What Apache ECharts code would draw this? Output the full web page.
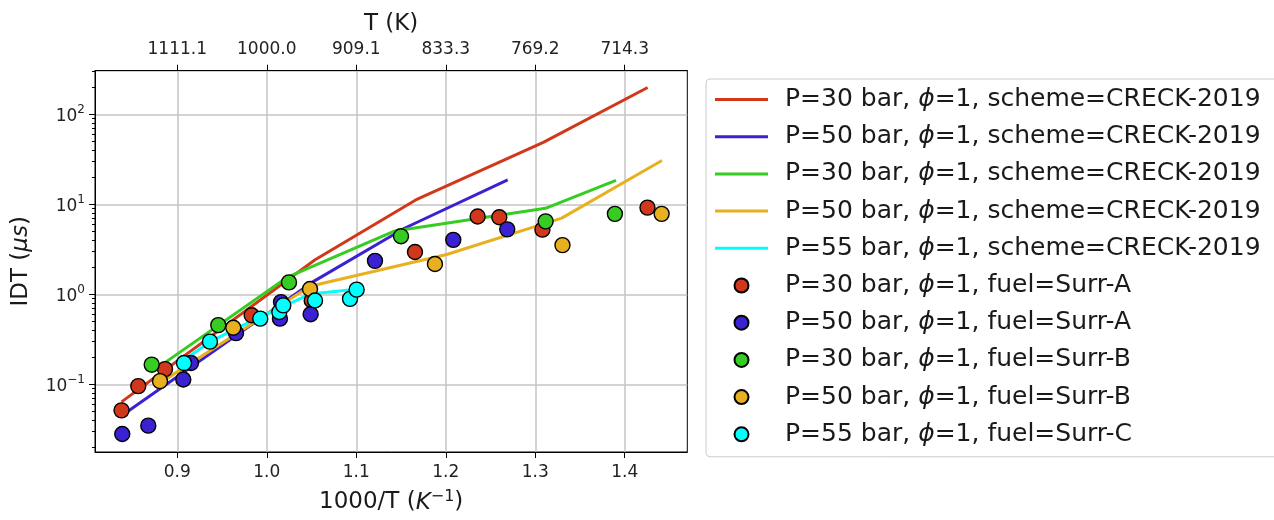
<!DOCTYPE html>
<html>
<head>
<meta charset="utf-8">
<script src="https://cdn.jsdelivr.net/npm/echarts@6/dist/echarts.min.js"></script>
<style>
  html, body { margin: 0; padding: 0; background: #ffffff; }
  #chart { width: 1274px; height: 520px; }
</style>
</head>
<body>
<div id="chart"></div>
<script>
// Axis ticks (1000/T in 1/K, IDT in microseconds)
const xTicks = [0.9, 1.0, 1.1, 1.2, 1.3, 1.4];
const yDecades = [0.1, 1, 10, 100];

// CRECK-2019 simulations: [1000/T, IDT]
const sim30a = [[0.8377, 0.064], [1.054, 2.43], [1.1664, 11.2], [1.309, 48.9], [1.4256, 199]];
const sim50a = [[0.8385, 0.0455], [1.0505, 1.36], [1.1544, 5.47], [1.2692, 18.7]];
const sim30b = [[0.8706, 0.136], [1.0226, 1.545], [1.1432, 5.07], [1.3114, 9.06], [1.3902, 18.5]];
const sim50b = [[0.8796, 0.102], [1.0483, 1.23], [1.201, 2.78], [1.3295, 7.04], [1.4416, 30.7]];
const sim55c = [[0.903, 0.1726], [0.9365, 0.2985], [0.9887, 0.538], [1.0483, 1.01], [1.1004, 1.14]];

// Measurements: [1000/T, IDT]
const exp30a = [[0.8377, 0.0515], [0.8564, 0.0958], [0.8863, 0.148], [0.9831, 0.586], [1.0502, 0.857],
                [1.1656, 2.96], [1.2356, 7.35], [1.2598, 7.21], [1.308, 5.24], [1.4254, 9.22]];
const exp50a = [[0.8385, 0.0281], [0.8676, 0.0348], [0.9067, 0.1135], [0.9153, 0.173], [0.9656, 0.371],
                [1.0147, 0.538], [1.0159, 0.821], [1.049, 0.601], [1.1209, 2.36], [1.2084, 4.04], [1.2687, 5.28]];
const exp30b = [[0.8714, 0.166], [0.9458, 0.456], [1.0248, 1.36], [1.15, 4.43], [1.3116, 6.48], [1.389, 7.85]];
const exp50b = [[0.8807, 0.1087], [0.9626, 0.4256], [1.0483, 1.15], [1.1879, 2.18], [1.3304, 3.53], [1.4412, 7.85]];
const exp55c = [[0.9075, 0.1726], [0.9365, 0.2985], [0.9927, 0.538], [1.014, 0.638], [1.0184, 0.755],
                [1.0539, 0.857], [1.093, 0.893], [1.1004, 1.13]];

const simNames = [
  'P=30 bar, {i|ϕ}=1, scheme=CRECK-2019',
  'P=50 bar, {i|ϕ}=1, scheme=CRECK-2019',
  'P=30 bar, {i|ϕ}=1, scheme=CRECK-2019 ',
  'P=50 bar, {i|ϕ}=1, scheme=CRECK-2019 ',
  'P=55 bar, {i|ϕ}=1, scheme=CRECK-2019'
];
const expNames = [
  'P=30 bar, {i|ϕ}=1, fuel=Surr-A',
  'P=50 bar, {i|ϕ}=1, fuel=Surr-A',
  'P=30 bar, {i|ϕ}=1, fuel=Surr-B',
  'P=50 bar, {i|ϕ}=1, fuel=Surr-B',
  'P=55 bar, {i|ϕ}=1, fuel=Surr-C'
];
const colors = ['#d1381b', '#3a22d2', '#36cc22', '#e8b020', '#00ffff'];

const FONT = 'DejaVu Sans';
const X_MIN = 0.80804, X_MAX = 1.4699;
const Y_MIN = 0.01774, Y_MAX = 306;

const chart = echarts.init(document.getElementById('chart'), null, { renderer: 'canvas' });

const simData = [sim30a, sim50a, sim30b, sim50b, sim55c];
const expData = [exp30a, exp50a, exp30b, exp50b, exp55c];

const series = [];
simData.forEach((d, i) => {
  series.push({
    name: simNames[i],
    type: 'line',
    data: d,
    symbol: 'none',
    lineStyle: { color: colors[i], width: 3 },
    itemStyle: { color: colors[i] },
    z: 2
  });
});
expData.forEach((d, i) => {
  series.push({
    name: expNames[i],
    type: 'scatter',
    data: d,
    symbol: 'circle',
    symbolSize: 15,
    itemStyle: { color: colors[i], borderColor: '#000', borderWidth: 1.4, opacity: 1 },
    z: 3
  });
});

// legend entries: flat stroke for simulations, circle for measurements
const lineIcon = 'path://M0,0 L53,0 L53,3 L0,3 Z';
const legendData = simNames.map(n => ({ name: n, icon: lineIcon }))
  .concat(expNames.map(n => ({ name: n, icon: 'circle' })));

const supRich = {
  b: { fontFamily: FONT, fontSize: 17, color: '#222', lineHeight: 22, verticalAlign: 'bottom' },
  s: { fontFamily: FONT, fontSize: 12, color: '#222', lineHeight: 22, verticalAlign: 'top', padding: [0, 0, 8, 0] }
};

function decadeLabel(v) {
  const e = Math.round(Math.log10(v));
  if (Math.abs(Math.log10(v) - e) > 1e-6) return '';
  const exp = e < 0 ? '\u2212' + (-e) : String(e);
  return '{b|10}{s|' + exp + '}';
}

chart.setOption({
  animation: false,
  backgroundColor: '#ffffff',
  textStyle: { fontFamily: FONT },
  grid: {
    left: 95, right: 586.7, top: 70.7, bottom: 63.3,
    show: true, borderColor: '#000', borderWidth: 1, backgroundColor: 'transparent'
  },
  legend: {
    orient: 'vertical',
    left: 706, top: 79,
    padding: [8, 12, 10, 9],
    itemWidth: 53, itemHeight: 14,
    itemGap: 12.2,
    backgroundColor: '#ffffff',
    borderColor: '#cccccc', borderWidth: 1, borderRadius: 4,
    data: legendData,
    textStyle: {
      fontFamily: FONT, fontSize: 25, color: '#1a1a1a', lineHeight: 25,
      padding: [0, 0, 0, 12],
      rich: { i: { fontFamily: FONT, fontStyle: 'italic', fontSize: 25, color: '#1a1a1a', lineHeight: 25 } }
    }
  },
  xAxis: [
    {
      type: 'value', position: 'bottom', min: X_MIN, max: X_MAX,
      name: '1000/T ({i|K}{s|\u22121})', nameLocation: 'middle', nameGap: 37,
      nameTextStyle: {
        fontFamily: FONT, fontSize: 23, color: '#1a1a1a', lineHeight: 26,
        rich: {
          i: { fontFamily: FONT, fontStyle: 'italic', fontSize: 23, color: '#1a1a1a', lineHeight: 26, verticalAlign: 'bottom' },
          s: { fontFamily: FONT, fontSize: 16, color: '#1a1a1a', lineHeight: 26, verticalAlign: 'top', padding: [0, 0, 10, 0] }
        }
      },
      axisLine: { show: true, lineStyle: { color: '#000', width: 1 } },
      axisTick: { show: true, customValues: xTicks, length: 6, lineStyle: { color: '#000', width: 1 } },
      axisLabel: {
        customValues: xTicks, margin: 12, fontFamily: FONT, fontSize: 17, color: '#222',
        formatter: v => v.toFixed(1)
      },
      splitLine: { show: true, lineStyle: { color: '#c4c4c4', width: 1.5 } }
    },
    {
      type: 'value', position: 'top', min: X_MIN, max: X_MAX,
      name: 'T (K)', nameLocation: 'middle', nameGap: 34,
      nameTextStyle: { fontFamily: FONT, fontSize: 23, color: '#1a1a1a' },
      axisLine: { show: true, lineStyle: { color: '#000', width: 1 } },
      axisTick: { show: true, customValues: xTicks, length: 6, lineStyle: { color: '#000', width: 1 } },
      axisLabel: {
        customValues: xTicks, margin: 13, fontFamily: FONT, fontSize: 17, color: '#222',
        formatter: v => (1000 / v).toFixed(1)
      },
      splitLine: { show: false }
    }
  ],
  yAxis: [
    {
      type: 'log', logBase: 10, min: Y_MIN, max: Y_MAX,
      name: 'IDT ({i|μs})', nameLocation: 'middle', nameGap: 62,
      nameTextStyle: {
        fontFamily: FONT, fontSize: 23, color: '#1a1a1a',
        rich: { i: { fontFamily: FONT, fontStyle: 'italic', fontSize: 23, color: '#1a1a1a' } }
      },
      axisLine: { show: true, lineStyle: { color: '#000', width: 1 } },
      axisTick: { show: true, customValues: yDecades, length: 6, lineStyle: { color: '#000', width: 1 } },
      minorTick: { show: true, splitNumber: 9, length: 3, lineStyle: { color: '#000', width: 1 } },
      axisLabel: {
        customValues: yDecades, margin: 10, formatter: decadeLabel, rich: supRich
      },
      splitLine: { show: true, lineStyle: { color: '#c4c4c4', width: 1.5 } },
      minorSplitLine: { show: false }
    }
  ],
  series: series
});
</script>
</body>
</html>
